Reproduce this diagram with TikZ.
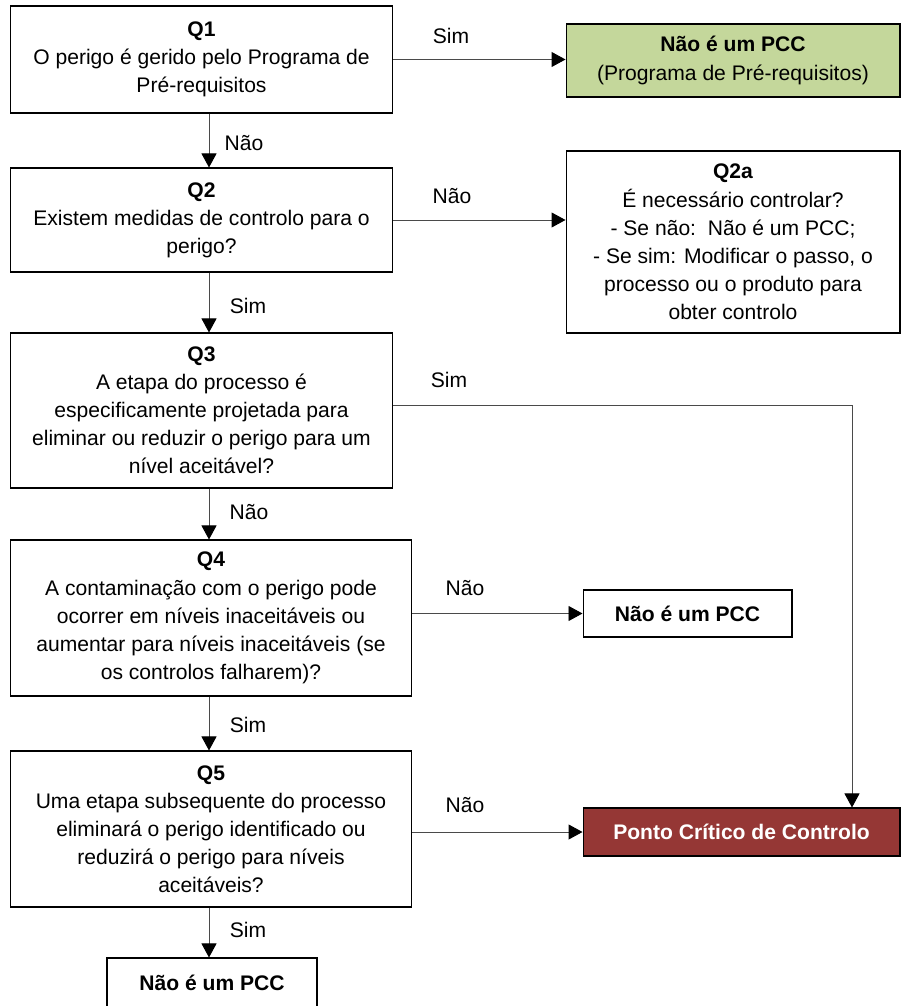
\documentclass[tikz,border=0pt]{standalone}
\usepackage{fontspec}
\setmainfont{Liberation Sans}
\definecolor{prpgreen}{HTML}{C4D79B}
\definecolor{pccred}{HTML}{953735}
\definecolor{flowgray}{HTML}{4A4A4A}
\usetikzlibrary{arrows.meta,calc}

\begin{document}
\begin{tikzpicture}[x=0.02cm, y=-0.02cm,
    box/.style={rectangle, draw=black, line width=0.6pt, align=center, inner sep=2pt,
      font=\fontsize{12}{16}\selectfont},
    flow/.style={draw=flowgray, line width=0.55pt, -{Triangle[length=0.28cm, width=0.3cm, color=black]}},
    lbl/.style={font=\fontsize{12}{16}\selectfont}]
    \useasboundingbox (0,0) rectangle (901,1006);
    \coordinate (spine) at (209,0);
    \coordinate (bend) at (852,0);

    % Q1
    \node[box, minimum width=7.66cm, minimum height=2.14cm] (q1) at (201.5,59.5)
      {\textbf{Q1}\\O perigo é gerido pelo Programa de\\Pré-requisitos};
    \node[box, fill=prpgreen, minimum width=6.68cm, minimum height=1.46cm] (prp) at (733,60.5)
      {\textbf{Não é um PCC}\\(Programa de Pré-requisitos)};
    \draw[flow] (q1.east) -- (q1.east -| prp.west);
    \node[lbl] (l1) at (451,36) {Sim};

    % Q2
    \node[box, minimum width=7.66cm, minimum height=2.08cm] (q2) at (201.5,220)
      {\textbf{Q2}\\Existem medidas de controlo para o\\perigo?};
    \draw[flow] (q1.south -| spine) -- (q2.north -| spine);
    \node[lbl] (l2) at (244,143) {Não};

    % Q2a
    \node[box, minimum width=6.68cm, minimum height=3.64cm] (q2a) at (733,242)
      {\textbf{Q2a}\\É necessário controlar?\\- Se não:\ \ Não é um PCC;\\- Se sim: Modificar o passo, o\\processo ou o produto para\\obter controlo};
    \draw[flow] (q2.east) -- (q2.east -| q2a.west);
    \node[lbl] (l3) at (452,196) {Não};

    % Q3
    \node[box, minimum width=7.66cm, minimum height=3.10cm] (q3) at (201.5,410.5)
      {\textbf{Q3}\\A etapa do processo é\\especificamente projetada para\\eliminar ou reduzir o perigo para um\\nível aceitável?};
    \draw[flow] (q2.south -| spine) -- (q3.north -| spine);
    \node[lbl] (l4) at (248,306) {Sim};

    % Q4
    \node[box, minimum width=8.04cm, minimum height=3.12cm] (q4) at (211,618)
      {\textbf{Q4}\\A contaminação com o perigo pode\\ocorrer em níveis inaceitáveis ou\\aumentar para níveis inaceitáveis (se\\os controlos falharem)?};
    \draw[flow] (q3.south -| spine) -- (q4.north -| spine);
    \node[lbl] (l5) at (249,512) {Não};

    \node[box, minimum width=4.18cm, minimum height=0.94cm] (npcc) at (687.5,613.5)
      {\textbf{Não é um PCC}};
    \draw[flow] (q4.east |- npcc.west) -- (npcc.west);
    \node[lbl] (l6) at (465,588) {Não};

    % Q5
    \node[box, minimum width=8.04cm, minimum height=3.12cm] (q5) at (211,829)
      {\textbf{Q5}\\Uma etapa subsequente do processo\\eliminará o perigo identificado ou\\reduzirá o perigo para níveis\\aceitáveis?};
    \draw[flow] (q4.south -| spine) -- (q5.north -| spine);
    \node[lbl] (l7) at (248,725) {Sim};

    % Ponto Critico de Controlo
    \node[box, fill=pccred, text=white, minimum width=6.34cm, minimum height=0.96cm] (pcc) at (741.5,832)
      {\textbf{Ponto Crítico de Controlo}};
    \draw[flow] (q5.east |- pcc.west) -- (pcc.west);
    \node[lbl] (l8) at (465,805) {Não};
    \draw[flow] ([yshift=0.11cm]q3.east) -| (pcc.north -| bend);
    \node[lbl] (l9) at (449,380) {Sim};

    % final
    \node[box, minimum width=4.2cm, minimum height=0.98cm] (nend) at (212,982.5)
      {\textbf{Não é um PCC}};
    \draw[flow] (q5.south -| spine) -- (nend.north -| spine);
    \node[lbl] (l10) at (248,930) {Sim};
  \end{tikzpicture}
\end{document}
